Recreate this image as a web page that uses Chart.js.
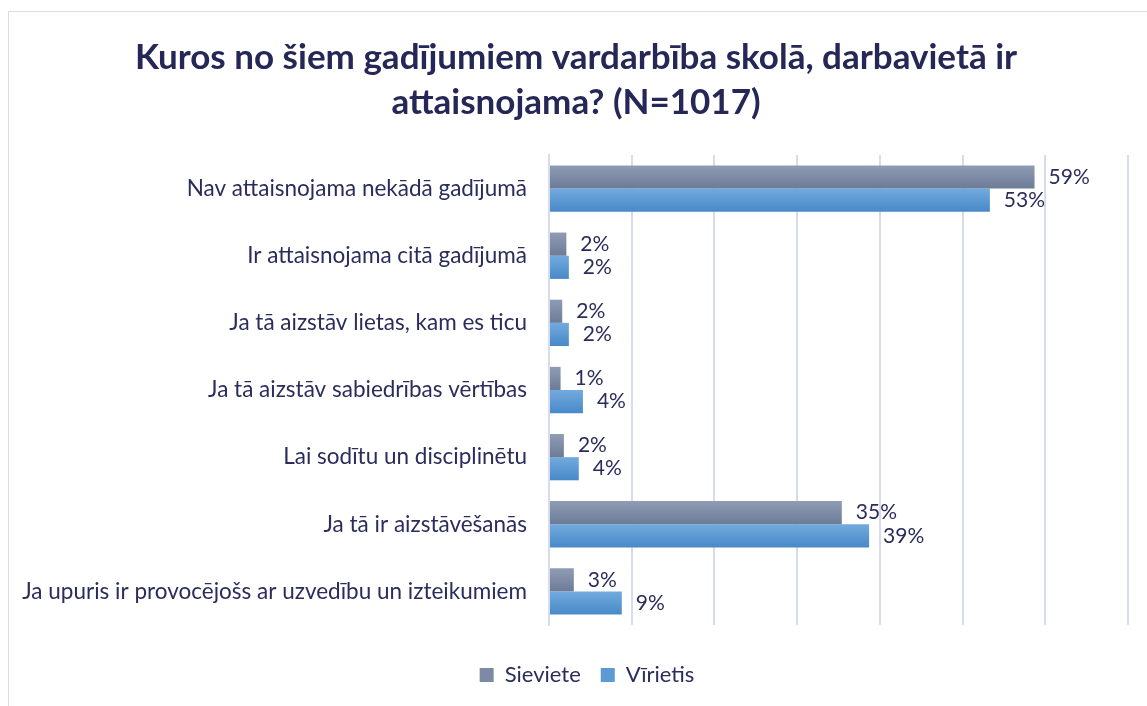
<!DOCTYPE html>
<html>
<head>
<meta charset="utf-8">
<script src="https://cdn.jsdelivr.net/npm/chart.js@4.4.1/dist/chart.umd.min.js"></script>
<style>
    html, body { margin: 0; padding: 0; background: #fff; overflow: hidden; }
    #frame { position: absolute; left: 8px; top: 11px; width: 1300px; height: 900px; border: 1px solid #d9dde9; }
    #wrap { position: absolute; left: 0; top: 0; width: 1147px; height: 706px; }
</style>
</head>
<body>
<div id="frame"></div>
<div id="wrap"><canvas id="chart"></canvas></div>
<script>
// Categories (top to bottom)
const categories = [
    'Nav attaisnojama nekādā gadījumā',
    'Ir attaisnojama citā gadījumā',
    'Ja tā aizstāv lietas, kam es ticu',
    'Ja tā aizstāv sabiedrības vērtības',
    'Lai sodītu un disciplinētu',
    'Ja tā ir aizstāvēšanās',
    'Ja upuris ir provocējošs ar uzvedību un izteikumiem'
];

// Percent values
const sieviete = [58.7, 2.1, 1.6, 1.4, 1.8, 35.4, 3.0];
const virietis = [53.3, 2.4, 2.4, 4.1, 3.6, 38.7, 8.8];

const seriesNames = ['Sieviete', 'Vīrietis'];
const xTicks = [0, 10, 20, 30, 40, 50, 60, 70];

const TEXT = '#2a2c5c';
const FONT = 'Lato, "Open Sans", sans-serif';
const CAT_PCT = 0.69;

// Vertical gradient inside each bar
function barFill(top, bottom) {
    return (ctx) => {
        const chart = ctx.chart;
        const y = chart.scales && chart.scales.y;
        if (!y || !chart.chartArea || ctx.dataIndex === undefined) return bottom;
        const center = y.getPixelForValue(ctx.dataIndex);
        const half = (y.height / categories.length) * CAT_PCT / 2;
        const y0 = ctx.datasetIndex === 0 ? center - half : center;
        const g = chart.ctx.createLinearGradient(0, y0, 0, y0 + half);
        g.addColorStop(0, top);
        g.addColorStop(1, bottom);
        return g;
    };
}

// Percent labels at the end of each bar
const valueLabels = {
    id: 'valueLabels',
    afterDatasetsDraw(chart) {
        const ctx = chart.ctx;
        ctx.save();
        ctx.font = '21px ' + FONT;
        ctx.fillStyle = TEXT;
        ctx.textAlign = 'left';
        ctx.textBaseline = 'middle';
        chart.data.datasets.forEach((ds, di) => {
            const meta = chart.getDatasetMeta(di);
            meta.data.forEach((bar, i) => {
                ctx.fillText(Math.round(ds.data[i]) + '%', bar.x + 14, bar.y);
            });
        });
        ctx.restore();
    }
};

// Title and legend sit a little right of the canvas centre in the original
const nudgeBlocks = {
    id: 'nudgeBlocks',
    afterLayout(chart) {
        if (chart.titleBlock) { chart.titleBlock.left += 12; chart.titleBlock.right += 12; }
        if (chart.legend) { chart.legend.left += 23; chart.legend.right += 23; }
    }
};

const legendColors = ['#7d8aa5', '#5b9ad3'];

new Chart(document.getElementById('chart'), {
    type: 'bar',
    data: {
        labels: categories,
        datasets: [
            {
                label: seriesNames[0],
                data: sieviete,
                backgroundColor: barFill('#8f9cb5', '#6c7b97'),
                borderWidth: 0,
            },
            {
                label: seriesNames[1],
                data: virietis,
                backgroundColor: barFill('#72aade', '#4889c8'),
                borderWidth: 0,
            }
        ]
    },
    options: {
        indexAxis: 'y',
        responsive: true,
        maintainAspectRatio: false,
        animation: false,
        datasets: {
            bar: { categoryPercentage: CAT_PCT, barPercentage: 1 }
        },
        layout: { padding: { top: 35, right: 19, bottom: 10, left: 0 } },
        scales: {
            x: {
                min: 0,
                max: 70,
                afterBuildTicks: (scale) => { scale.ticks = xTicks.map(v => ({ value: v })); },
                afterFit: (scale) => { scale.height = 19; },
                ticks: { display: false },
                grid: { color: '#d8daef', lineWidth: 2, drawTicks: false },
                border: { display: false },
            },
            y: {
                afterFit: (scale) => { scale.width = 549; },
                grid: { display: false, drawTicks: false },
                border: { color: '#d8daef', width: 2 },
                ticks: {
                    padding: 22,
                    color: TEXT,
                    font: { family: FONT, size: 22.5 },
                },
            }
        },
        plugins: {
            title: {
                display: true,
                text: ['Kuros no šiem gadījumiem vardarbība skolā, darbavietā ir', 'attaisnojama? (N=1017)'],
                color: '#252856',
                font: { family: FONT, size: 35, weight: 'bold', lineHeight: '45px' },
                padding: { top: 0, bottom: 30 },
            },
            legend: {
                position: 'bottom',
                labels: {
                    color: TEXT,
                    font: { family: FONT, size: 22 },
                    boxWidth: 14,
                    boxHeight: 14,
                    padding: 20,
                    generateLabels: (chart) => Chart.defaults.plugins.legend.labels.generateLabels(chart)
                        .map((item, i) => Object.assign(item, { fillStyle: legendColors[i], strokeStyle: legendColors[i], lineWidth: 0 })),
                },
            },
            tooltip: { enabled: false },
        }
    },
    plugins: [valueLabels, nudgeBlocks]
});
</script>
</body>
</html>
